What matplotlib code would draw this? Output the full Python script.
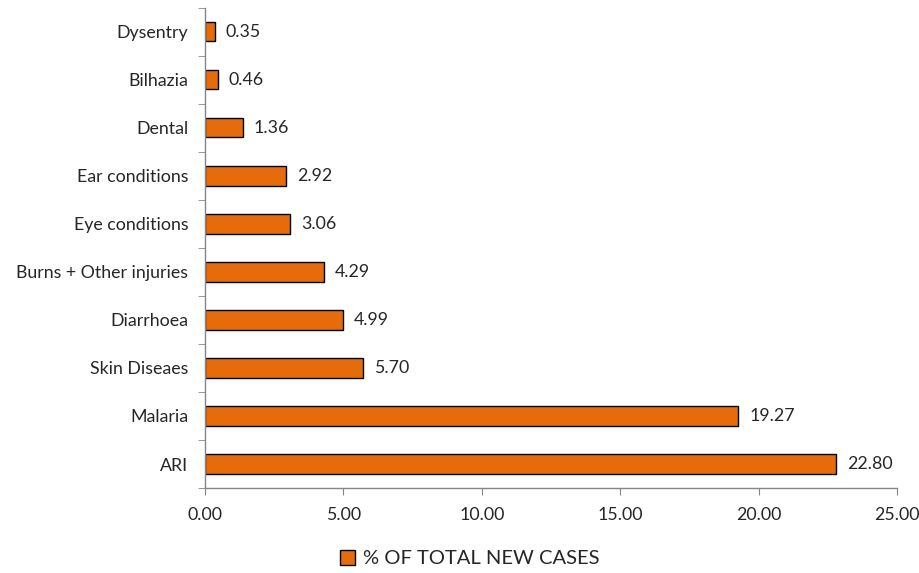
import numpy as np
import matplotlib.pyplot as plt
from matplotlib.patches import Patch

plt.rcParams['font.family'] = ['Lato', 'DejaVu Sans']

categories = ['ARI', 'Malaria', 'Skin Diseaes', 'Diarrhoea', 'Burns + Other injuries',
              'Eye conditions', 'Ear conditions', 'Dental', 'Bilhazia', 'Dysentry']
values = [22.80, 19.27, 5.70, 4.99, 4.29, 3.06, 2.92, 1.36, 0.46, 0.35]
xticks = [0, 5, 10, 15, 20, 25]
series_name = '% OF TOTAL NEW CASES'

bar_color = '#E46C0A'
grey = '#868686'
txt = '#262626'

fig = plt.figure(figsize=(9.2, 5.73), dpi=100)
ax = fig.add_axes([0.2228, 0.1483, 0.7522, 0.838])

y = np.arange(len(categories))
ax.barh(y, values, height=0.4, color=bar_color, edgecolor='black', linewidth=1)

for yi, v in zip(y, values):
    ax.annotate('{:.2f}'.format(v), (v, yi), xytext=(8, 0), textcoords='offset points',
                va='center', ha='left', fontsize=12.8, color=txt)

ax.set_xlim(0, 25)
ax.set_ylim(-0.5, len(categories) - 0.5)
ax.set_xticks(xticks)
ax.set_xticklabels(['{:.2f}'.format(t) for t in xticks], fontsize=12.8, color=txt)
ax.set_yticks(y)
ax.set_yticklabels(categories, fontsize=12.8, color=txt)
ax.tick_params(axis='y', which='major', length=0, pad=12)
ax.set_yticks(np.arange(-0.5, len(categories), 1), minor=True)
ax.tick_params(axis='y', which='minor', length=5, color=grey, direction='out')
ax.tick_params(axis='x', which='major', length=5, color=grey, direction='out', pad=9)

for s in ['top', 'right']:
    ax.spines[s].set_visible(False)
for s in ['left', 'bottom']:
    ax.spines[s].set_color(grey)
    ax.spines[s].set_linewidth(1)

handle = Patch(facecolor=bar_color, edgecolor='black', linewidth=1)
fig.legend([handle], [series_name], loc='center', bbox_to_anchor=(0.511, 0.025),
           frameon=False, fontsize=14.5, handlelength=0.75, handleheight=0.75,
           handletextpad=0.4, labelcolor=txt)

fig.savefig('out.png', dpi=100)
